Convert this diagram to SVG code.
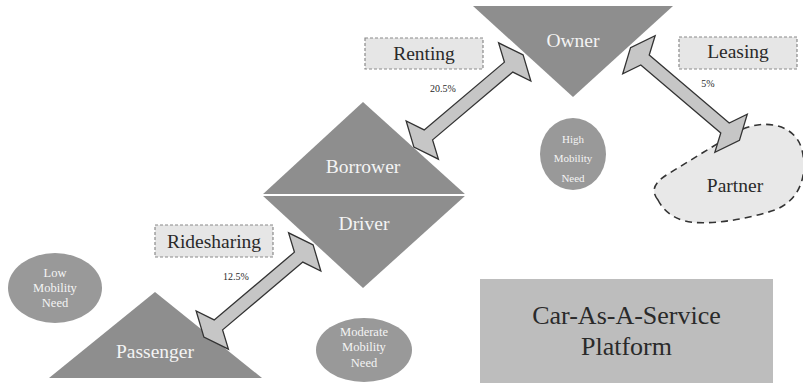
<svg xmlns="http://www.w3.org/2000/svg" width="803" height="385" viewBox="0 0 803 385">
<defs>
<style>
.shape{fill:#8e8e8e}
.oval{fill:#999999}
.wt{font-family:"Liberation Serif","Times New Roman",serif;fill:#f4f4f4;text-anchor:middle}
.big{font-size:19.5px}
.sm{font-size:12.5px}
.xs{font-size:11px}
.lbl{fill:#e6e6e6;stroke:#8a8a8a;stroke-width:1.2;stroke-dasharray:3 2}
.dt{font-family:"Liberation Serif","Times New Roman",serif;fill:#2a2a2a;text-anchor:middle}
.pct{font-size:10px}
.arrow{fill:#c6c6c6;stroke:#333333;stroke-width:1.3;stroke-linejoin:miter}
</style>
<path id="dbl" d="M71.5,0 L60.5,-25 L52.5,-6.5 L-52.5,-6.5 L-60.5,-25 L-71.5,0 L-60.5,25 L-52.5,6.5 L52.5,6.5 L60.5,25 Z"/>
</defs>
<rect width="803" height="385" fill="#ffffff"/>

<g id="owner">
<polygon class="shape" points="473,6 673,6 573,97"/>
<text class="wt big" x="573" y="47">Owner</text>
</g>

<g id="borrower-driver">
<polygon class="shape" points="363,102 466,195 363,288 262,195"/>
<line x1="262" y1="195" x2="466" y2="195" stroke="#ffffff" stroke-width="2"/>
<text class="wt big" x="363" y="173">Borrower</text>
<text class="wt big" x="364" y="230">Driver</text>
</g>

<g id="passenger">
<polygon class="shape" points="155,292 262,378 49,378"/>
<text class="wt big" x="155" y="358">Passenger</text>
</g>

<g id="partner">
<path d="M658,200 C650,190 655,182 668,174 L735,133 C760,118 795,122 802,150 C808,175 800,200 775,210 C745,220 705,226 685,221 C670,217 662,208 658,200 Z" fill="#e8e8e8" stroke="#333333" stroke-width="1.6" stroke-dasharray="7 5"/>
<text class="dt big" x="735" y="192">Partner</text>
</g>

<g id="low-need">
<ellipse class="oval" cx="55" cy="288" rx="47" ry="35"/>
<text class="wt sm" x="55" y="277">Low</text>
<text class="wt sm" x="55" y="292">Mobility</text>
<text class="wt sm" x="55" y="307">Need</text>
</g>

<g id="moderate-need">
<ellipse class="oval" cx="364" cy="350" rx="48" ry="32"/>
<text class="wt sm" x="364" y="336">Moderate</text>
<text class="wt sm" x="364" y="351">Mobility</text>
<text class="wt sm" x="364" y="367">Need</text>
</g>

<g id="high-need">
<ellipse class="oval" cx="573" cy="154" rx="33" ry="36"/>
<text class="wt xs" x="573" y="143">High</text>
<text class="wt xs" x="573" y="162">Mobility</text>
<text class="wt xs" x="573" y="182">Need</text>
</g>

<g id="platform">
<rect x="480" y="279" width="293" height="104" fill="#bdbdbd"/>
<text class="dt" x="626.5" y="324" font-size="26">Car-As-A-Service</text>
<text class="dt" x="626.5" y="355" font-size="26">Platform</text>
</g>

<g id="renting-label">
<rect class="lbl" x="365" y="38" width="118" height="31"/>
<text class="dt big" x="424" y="60">Renting</text>
<text class="dt pct" x="443" y="92">20.5%</text>
</g>

<g id="leasing-label">
<rect class="lbl" x="679" y="37" width="118" height="32"/>
<text class="dt big" x="738" y="58">Leasing</text>
<text class="dt pct" x="708" y="87">5%</text>
</g>

<g id="ridesharing-label">
<rect class="lbl" x="155" y="225" width="118" height="32"/>
<text class="dt big" x="214" y="248">Ridesharing</text>
<text class="dt pct" x="236" y="280">12.5%</text>
</g>

<g id="connectors">
<use href="#dbl" class="arrow" transform="translate(468.5,101) rotate(-40.2)"/>
<use href="#dbl" class="arrow" transform="translate(685,94) rotate(40.4)"/>
<use href="#dbl" class="arrow" transform="translate(258.5,291) rotate(-40.2)"/>
</g>
</svg>
